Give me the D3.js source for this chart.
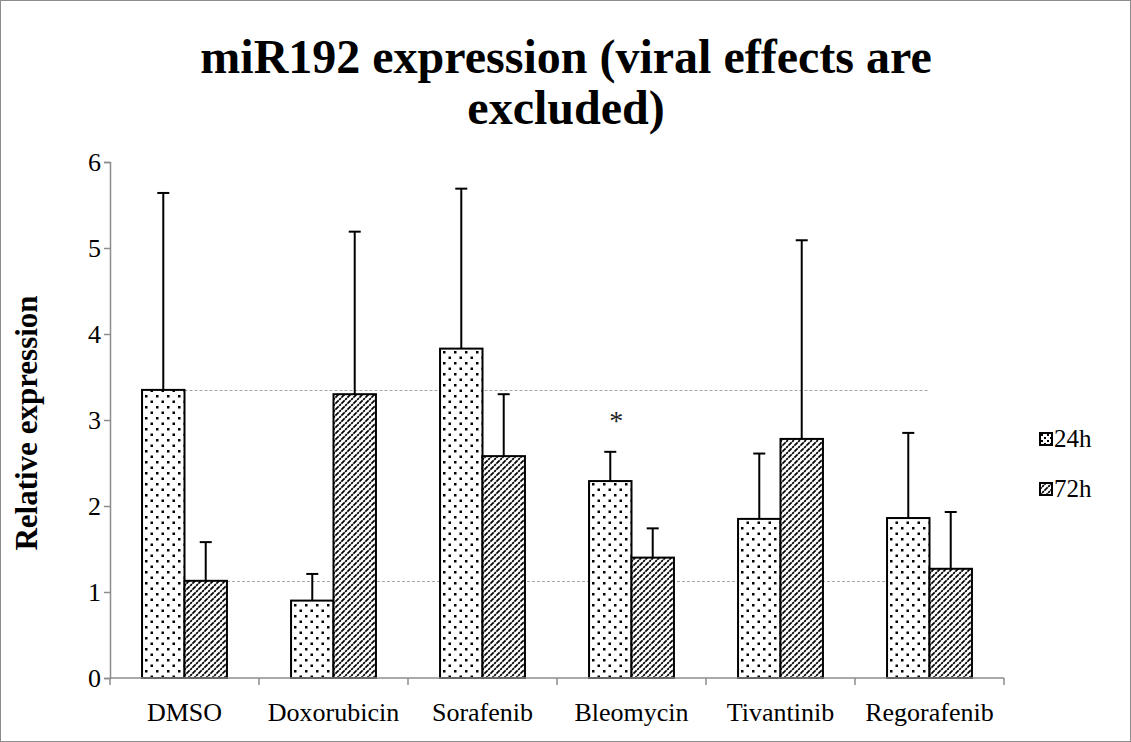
<!DOCTYPE html>
<html>
<head>
<meta charset="utf-8">
<script src="https://cdn.jsdelivr.net/npm/d3@7"></script>
<style>
  html, body { margin: 0; padding: 0; background: #fff; }
  svg { display: block; }
  svg text { font-family: "Liberation Serif", "Times New Roman", serif; }
</style>
</head>
<body>
<svg id="chart" width="1131" height="742"></svg>
<script>
// Treatments and series
const categories = ["DMSO", "Doxorubicin", "Sorafenib", "Bleomycin", "Tivantinib", "Regorafenib"];
const seriesNames = ["24h", "72h"];

// Mean relative expression per treatment
const values24h = [3.35, 0.90, 3.83, 2.29, 1.85, 1.86];
const values72h = [1.13, 3.30, 2.58, 1.40, 2.78, 1.27];

// Upper error bar ends (mean + SD)
const errTop24h = [5.64, 1.21, 5.69, 2.63, 2.61, 2.85];
const errTop72h = [1.58, 5.19, 3.30, 1.74, 5.09, 1.93];

// Significance marks (treatment, series)
const significance = [{ category: "Bleomycin", series: "24h", label: "*" }];

// Y axis ticks
const yTicks = [0, 1, 2, 3, 4, 5, 6];

const FONT = "Liberation Serif, Times New Roman, serif";
const svg = d3.select("#chart").attr("font-family", FONT);
const W = 1131, H = 742;
const margin = { left: 110, right: 127, top: 162, bottom: 64 };
const plotW = W - margin.left - margin.right;   // 894
const plotH = H - margin.top - margin.bottom;   // 516

// Outer frame
svg.append("rect")
  .attr("x", 0.5).attr("y", 0.5)
  .attr("width", W - 1).attr("height", H - 1)
  .attr("fill", "#fff").attr("stroke", "#8c8c8c").attr("stroke-width", 1);

// Fill patterns
const defs = svg.append("defs");
const dots = defs.append("pattern")
  .attr("id", "dots").attr("patternUnits", "userSpaceOnUse")
  .attr("width", 11).attr("height", 11);
dots.append("rect").attr("width", 11).attr("height", 11).attr("fill", "#fff");
dots.append("rect").attr("x", 2).attr("y", 2).attr("width", 2.5).attr("height", 2.5).attr("fill", "#000");
dots.append("rect").attr("x", 7.5).attr("y", 7.5).attr("width", 2.5).attr("height", 2.5).attr("fill", "#000");

const hatch = defs.append("pattern")
  .attr("id", "hatch").attr("patternUnits", "userSpaceOnUse")
  .attr("width", 6).attr("height", 6);
hatch.append("rect").attr("width", 6).attr("height", 6).attr("fill", "#fff");
hatch.append("path")
  .attr("d", "M-1,1 l2,-2 M0,6 l6,-6 M5,7 l2,-2")
  .attr("stroke", "#000").attr("stroke-width", 1.7)
  .attr("stroke-dasharray", "2.4,0.7");

// Small legend-sized variants
const dotsSmall = defs.append("pattern")
  .attr("id", "dotsSmall").attr("patternUnits", "userSpaceOnUse")
  .attr("width", 6).attr("height", 6);
dotsSmall.append("rect").attr("width", 6).attr("height", 6).attr("fill", "#fff");
dotsSmall.append("rect").attr("x", 1).attr("y", 1).attr("width", 2).attr("height", 2).attr("fill", "#000");
dotsSmall.append("rect").attr("x", 4).attr("y", 4).attr("width", 2).attr("height", 2).attr("fill", "#000");

const patternFor = { "24h": "url(#dots)", "72h": "url(#hatch)" };

const g = svg.append("g").attr("transform", `translate(${margin.left},${margin.top})`);

const x0 = d3.scaleBand().domain(categories).range([0, plotW]).paddingInner(0).paddingOuter(0);
const x1 = d3.scaleBand().domain(seriesNames).range([0, x0.bandwidth()]).paddingInner(0).paddingOuter(0.755);
const y = d3.scaleLinear().domain([0, 6]).range([plotH, 0]);

const data = categories.map((c, i) => ({
  category: c,
  bars: [
    { series: "24h", value: values24h[i], err: errTop24h[i] },
    { series: "72h", value: values72h[i], err: errTop72h[i] }
  ]
}));

// Dashed reference lines at the DMSO levels
const refEnd = x0(categories[categories.length - 1]) + x0.bandwidth() / 2;
[
  { series: "24h", value: values24h[0] },
  { series: "72h", value: values72h[0] }
].forEach(r => {
  g.append("line")
    .attr("x1", x0(categories[0]) + x1(r.series) + x1.bandwidth())
    .attr("x2", refEnd)
    .attr("y1", Math.round(y(r.value)) + 0.5)
    .attr("y2", Math.round(y(r.value)) + 0.5)
    .attr("stroke", "#a6a6a6").attr("stroke-width", 1)
    .attr("stroke-dasharray", "3,2");
});

// Error bars
const groups = g.selectAll("g.cat").data(data).enter().append("g")
  .attr("class", "cat")
  .attr("transform", d => `translate(${x0(d.category)},0)`);

groups.selectAll("g.err").data(d => d.bars).enter().append("g")
  .attr("class", "err")
  .each(function (b) {
    const cx = x1(b.series) + x1.bandwidth() / 2;
    const sel = d3.select(this);
    sel.append("line")
      .attr("x1", cx).attr("x2", cx)
      .attr("y1", y(b.value)).attr("y2", y(b.err))
      .attr("stroke", "#000").attr("stroke-width", 2);
    sel.append("line")
      .attr("x1", cx - 6).attr("x2", cx + 6)
      .attr("y1", y(b.err)).attr("y2", y(b.err))
      .attr("stroke", "#000").attr("stroke-width", 2);
  });

// Bars
groups.selectAll("rect.bar").data(d => d.bars).enter().append("rect")
  .attr("class", "bar")
  .attr("x", b => x1(b.series))
  .attr("y", b => y(b.value))
  .attr("width", x1.bandwidth())
  .attr("height", b => y(0) - y(b.value))
  .attr("fill", b => patternFor[b.series])
  .attr("stroke", "#000").attr("stroke-width", 2);

// Significance marks
significance.forEach(s => {
  const i = categories.indexOf(s.category);
  const top = s.series === "24h" ? errTop24h[i] : errTop72h[i];
  g.append("text")
    .attr("x", x0(s.category) + x1(s.series) + x1.bandwidth() / 2 + 6)
    .attr("y", y(top) - 22)
    .attr("text-anchor", "middle")
    .attr("font-family", FONT)
    .attr("font-size", 28)
    .attr("fill", "#222")
    .text(s.label);
});

// Y axis
const yAxis = d3.axisLeft(y).tickValues(yTicks).tickSize(6).tickPadding(3).tickFormat(d3.format("d"));
const yg = g.append("g").call(yAxis).attr("font-family", FONT);
yg.select(".domain").attr("stroke", "#8c8c8c").attr("stroke-width", 1.5);
yg.selectAll(".tick line").attr("stroke", "#8c8c8c").attr("stroke-width", 1.5);
yg.selectAll(".tick text").attr("font-size", 26).attr("fill", "#000")
  .attr("dy", "0.34em")
  .attr("font-family", FONT);

// X axis with category boundary ticks
const xg = g.append("g").attr("transform", `translate(0,${plotH})`);
xg.append("line").attr("x1", 0).attr("x2", plotW).attr("y1", 0).attr("y2", 0)
  .attr("stroke", "#8c8c8c").attr("stroke-width", 1.5);
const boundaries = categories.map(c => x0(c)).concat([plotW]);
xg.selectAll("line.bt").data(boundaries).enter().append("line")
  .attr("class", "bt")
  .attr("x1", d => d).attr("x2", d => d)
  .attr("y1", 0).attr("y2", 7)
  .attr("stroke", "#8c8c8c").attr("stroke-width", 1.5);
xg.selectAll("text.cl").data(categories).enter().append("text")
  .attr("class", "cl")
  .attr("x", c => x0(c) + x0.bandwidth() / 2)
  .attr("y", 43)
  .attr("text-anchor", "middle")
  .attr("font-family", FONT)
  .attr("font-size", 26)
  .attr("fill", "#000")
  .text(c => c);

// Y axis title
svg.append("text")
  .attr("transform", `translate(37,${margin.top + plotH / 2 + 3}) rotate(-90)`)
  .attr("text-anchor", "middle")
  .attr("font-family", FONT)
  .attr("font-size", 31)
  .attr("font-weight", "bold")
  .text("Relative expression");

// Chart title
const title = svg.append("text")
  .attr("text-anchor", "middle")
  .attr("font-family", FONT)
  .attr("font-size", 48)
  .attr("font-weight", "bold");
title.append("tspan").attr("x", 566).attr("y", 73).text("miR192 expression (viral effects are");
title.append("tspan").attr("x", 566).attr("y", 124).text("excluded)");

// Legend
const legend = svg.append("g").attr("transform", "translate(1040,0)");
const legendY = { "24h": 439, "72h": 489 };
seriesNames.forEach(s => {
  const row = legend.append("g").attr("transform", `translate(0,${legendY[s]})`);
  row.append("rect")
    .attr("x", 0).attr("y", -6).attr("width", 12).attr("height", 12)
    .attr("fill", s === "24h" ? "url(#dotsSmall)" : "url(#hatch)")
    .attr("stroke", "#000").attr("stroke-width", 2);
  row.append("text")
    .attr("x", 14).attr("y", 8)
    .attr("font-family", FONT)
    .attr("font-size", 25)
    .text(s);
});
</script>
</body>
</html>
